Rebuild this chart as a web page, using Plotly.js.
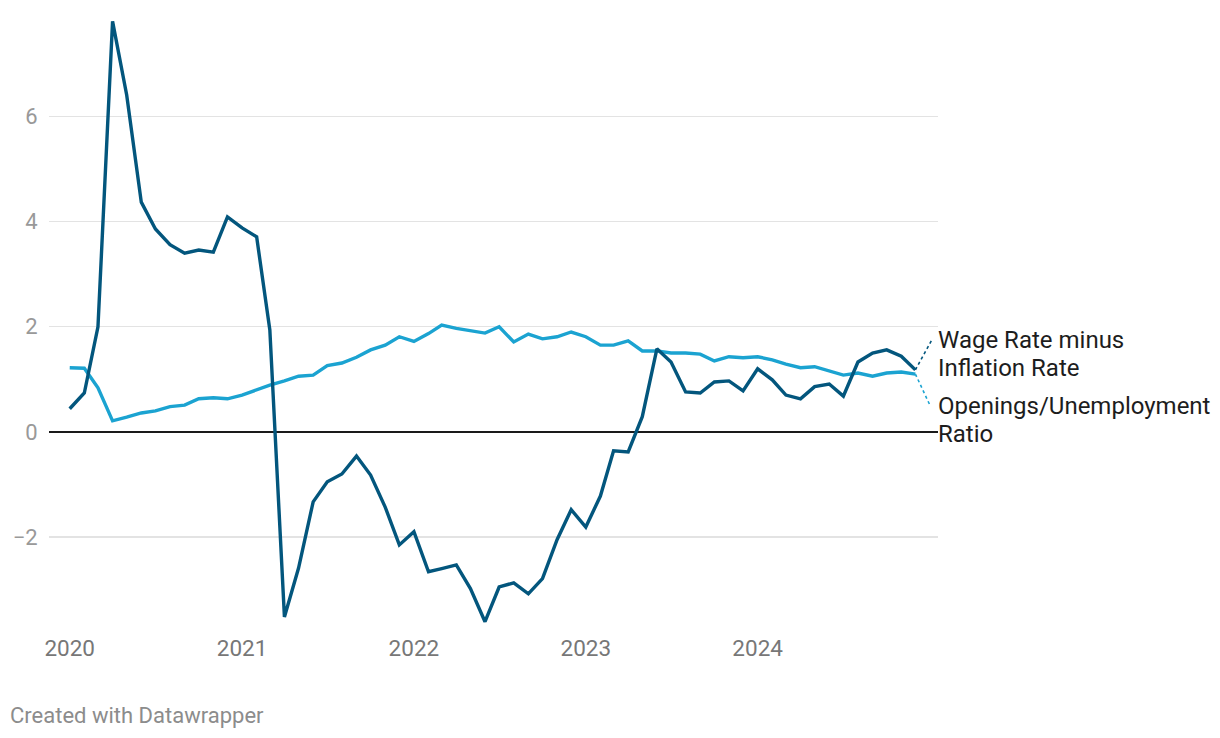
<!DOCTYPE html>
<html>
<head>
<meta charset="utf-8">
<script src="https://cdn.plot.ly/plotly-3.0.1.min.js"></script>
<style>
  html, body { margin: 0; padding: 0; background: #fff; }
  #chart { width: 1220px; height: 738px; }
</style>
</head>
<body>
<div id="chart"></div>
<script>
// Monthly dates Jan 2020 - Dec 2024
const months = [];
for (let y = 2020; y <= 2024; y++) {
  for (let m = 1; m <= 12; m++) {
    months.push(y + '-' + String(m).padStart(2, '0') + '-01');
  }
}

const wageMinusInflation = [
  0.44, 0.74, 2.00, 7.81, 6.41, 4.37, 3.86, 3.56, 3.40, 3.46, 3.42, 4.09,
  3.88, 3.71, 1.94, -3.52, -2.59, -1.33, -0.95, -0.80, -0.46, -0.82, -1.43, -2.15,
  -1.90, -2.66, -2.60, -2.53, -2.98, -3.61, -2.95, -2.87, -3.08, -2.79, -2.05, -1.48,
  -1.81, -1.22, -0.36, -0.38, 0.29, 1.58, 1.33, 0.76, 0.74, 0.95, 0.97, 0.78,
  1.20, 0.99, 0.70, 0.63, 0.86, 0.91, 0.68, 1.33, 1.50, 1.56, 1.44, 1.18
];

const openingsUnemployment = [
  1.22, 1.21, 0.84, 0.21, 0.28, 0.36, 0.40, 0.48, 0.51, 0.63, 0.65, 0.63,
  0.70, 0.80, 0.89, 0.97, 1.06, 1.08, 1.26, 1.31, 1.42, 1.56, 1.65, 1.81,
  1.72, 1.87, 2.03, 1.97, 1.92, 1.88, 2.00, 1.71, 1.86, 1.77, 1.81, 1.90,
  1.81, 1.65, 1.65, 1.73, 1.54, 1.54, 1.50, 1.50, 1.48, 1.35, 1.43, 1.41,
  1.43, 1.37, 1.29, 1.22, 1.24, 1.16, 1.08, 1.12, 1.06, 1.12, 1.14, 1.10
];

// Label lines for each series (and the y-value where each line is placed)
const wageLabelLines = ['Wage Rate minus', 'Inflation Rate'];
const wageLabelY = [1.75, 1.22];
const openLabelLines = ['Openings/Unemployment', 'Ratio'];
const openLabelY = [0.49, -0.04];

const yTicks = [-2, 0, 2, 4, 6];
const xTicks = ['2020-01-01', '2021-01-01', '2022-01-01', '2023-01-01', '2024-01-01'];
const xTickText = ['2020', '2021', '2022', '2023', '2024'];
const darkColor = '#03567d';
const lightColor = '#1ba3d1';

const lastDate = months[months.length - 1];
const lastWage = wageMinusInflation[wageMinusInflation.length - 1];
const lastOpen = openingsUnemployment[openingsUnemployment.length - 1];

const traces = [
  {
    x: months, y: openingsUnemployment, type: 'scatter', mode: 'lines',
    line: { color: lightColor, width: 3.4 }, hoverinfo: 'skip', showlegend: false
  },
  {
    x: months, y: wageMinusInflation, type: 'scatter', mode: 'lines',
    line: { color: darkColor, width: 3.4 }, hoverinfo: 'skip', showlegend: false
  }
];

const labelFont = { family: 'Roboto, sans-serif', size: 24, color: '#1d1d1d' };
const annotations = [];
wageLabelLines.forEach((t, i) => annotations.push({
  text: t, xref: 'paper', yref: 'y', x: 1, y: wageLabelY[i], xshift: -2,
  xanchor: 'left', yanchor: 'middle', align: 'left', showarrow: false, font: labelFont
}));
openLabelLines.forEach((t, i) => annotations.push({
  text: t, xref: 'paper', yref: 'y', x: 1, y: openLabelY[i], xshift: -2,
  xanchor: 'left', yanchor: 'middle', align: 'left', showarrow: false, font: labelFont
}));
annotations.push({
  text: 'Created with Datawrapper', xref: 'paper', yref: 'paper',
  x: 0, y: 0, xshift: -41, yshift: -87, xanchor: 'left', yanchor: 'middle', showarrow: false,
  font: { family: 'Roboto, sans-serif', size: 22, color: '#8c8c8c' }
});

const layout = {
  width: 1220, height: 738,
  margin: { l: 49, r: 282, t: 15, b: 110 },
  paper_bgcolor: '#fff', plot_bgcolor: '#fff',
  font: { family: 'Roboto, sans-serif', size: 18, color: '#888' },
  showlegend: false,
  xaxis: {
    type: 'date',
    range: ['2019-11-18', '2025-01-18'],
    tickvals: xTicks, ticktext: xTickText,
    showgrid: false, zeroline: false, showline: false,
    ticks: '', ticklabelstandoff: 4,
    tickfont: { family: 'Roboto, sans-serif', size: 22.5, color: '#777' },
    fixedrange: true
  },
  yaxis: {
    range: [-3.73, 7.93],
    tickvals: yTicks,
    ticktext: yTicks.map(v => v < 0 ? '\u2212' + Math.abs(v) : String(v)),
    showgrid: true, gridcolor: '#e3e3e3', gridwidth: 1.3,
    zeroline: true, zerolinecolor: '#1a1a1a', zerolinewidth: 1.8,
    showline: false,
    ticks: 'outside', ticklen: 6, tickcolor: 'rgba(0,0,0,0)',
    tickfont: { family: 'Roboto, sans-serif', size: 22, color: '#999' },
    fixedrange: true
  },
  shapes: [
    {
      type: 'line', xref: 'x', yref: 'y',
      xsizemode: 'pixel', ysizemode: 'pixel',
      xanchor: lastDate, yanchor: lastWage,
      x0: 0, x1: 17, y0: 0, y1: 31,
      line: { color: darkColor, width: 1.6, dash: 'dot' }
    },
    {
      type: 'line', xref: 'x', yref: 'y',
      xsizemode: 'pixel', ysizemode: 'pixel',
      xanchor: lastDate, yanchor: lastOpen,
      x0: 0, x1: 14, y0: 0, y1: -30,
      line: { color: lightColor, width: 1.6, dash: 'dot' }
    }
  ],
  annotations: annotations
};

Plotly.newPlot('chart', traces, layout, { displayModeBar: false, staticPlot: true });
</script>
</body>
</html>
